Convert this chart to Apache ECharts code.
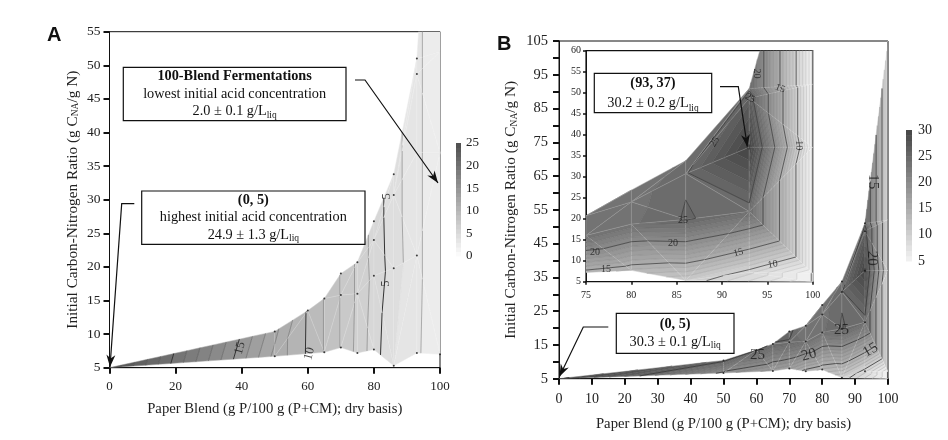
<!DOCTYPE html>
<html><head><meta charset="utf-8">
<style>html,body{margin:0;padding:0;background:#fff}#c{width:948px;height:440px}</style>
<script src="https://cdn.jsdelivr.net/npm/echarts@6/dist/echarts.min.js"></script>
</head><body><div id="c"></div>
<script>
// Fermentation grid (paper blend, C/N ratio)
const pointX = [0,50,50,60,65,65,70,70,70,75,75,75,80,80,80,80,86,86,86,86,93,93,93,93,93,100,100,100,100,100];
const pointY = [5,10.4,6.7,13.5,15.3,7.3,19,15.8,8,20.7,16,7.2,26.8,24,18.7,7.7,33.8,30.7,19.8,5.3,51,48.7,37,21.7,7.2,105,52,37,7,5];
// Initial acid concentration at each grid point
const acidA = [24.9,12.3,11.7,9.9,8.95,8.95,7.95,7.95,7.95,6.8,6.8,6.7,5.6,5.6,5.7,5.5,4.4,4.4,4.5,4.0,3.3,3.3,3.3,3.3,3.2,2.05,2.05,2.05,2.05,2.05];
const acidB = [30.3,25.5,19.5,25.2,24.9,17.5,25.6,24.8,17.2,23,23.8,14.4,23,23.5,23.8,13.8,24.3,24.8,25.15,11,24.5,26.5,30.2,24.2,9.3,4.9,4.9,4.9,4.9,4.9];
// Triangulated mesh (indices into the point lists)
const meshShared = [[0,1,2],[1,2,3],[2,3,5],[3,4,5],[4,5,7],[5,7,8],[4,6,7],[6,7,9],[7,9,10],[7,8,10],[8,10,11],
 [9,10,13],[9,12,13],[10,13,14],[10,14,15],[10,11,15],[12,13,16],[13,16,17],[13,17,18],[13,14,18],[14,18,19],[14,15,19],
 [16,17,20],[17,20,21],[17,21,22],[17,22,23],[17,18,23],[18,19,23],[19,23,24],[20,21,26],[20,25,26],[21,22,27],[21,26,27],[22,23,27],[23,27,28],[23,24,28]];
const meshBottomB = [[19,24,29],[24,28,29]];
const dotsA = [1,2,3,4,5,6,7,8,9,10,11,12,13,14,15,16,17,18,19,20,21,23,24,28];
const dotsB = [1,2,3,4,5,6,7,8,9,10,11,12,13,14,15,16,17,18,19,20,21,22,23,24];
const labelsA = [[39.5,7.9,'15',75],[60.5,7.1,'10',75],[83.6,17.5,'5',90],[84,30.5,'5',90]];
const labelsB = [[60.3,12,'25',0],[85.9,19.4,'25',0],[76,12,'20',15],[94.7,13.5,'15',30],[95,40.7,'20',-90],[95.5,63.3,'15',-90]];
const labelsInset = [[76,12,'20',0],[77.2,8,'15',0],[84.6,14.2,'20',0],[85.7,19.5,'25',0],[91.8,11.9,'15',15],[95.6,9.1,'10',10],[98.4,37.5,'10',-90],[96.4,51,'15',-20],[93.1,48.7,'25',-30],[89.2,38.3,'25',60],[93.8,54.6,'20',-90]];
const ticksBarA = [0,25], ticksBarB = [5,30];

const SERIF = '"Liberation Serif","Times New Roman",serif';
const shadeA = v => { const g = Math.round(253 - Math.max(0,v)/25*(253-78)); return `rgb(${g},${g},${g})`; };
const shadeB = v => { const g = Math.round(250 - Math.max(0,v-4)/26*(250-70)); return `rgb(${g},${g},${g})`; };

function clipLevel(poly, level, keepAbove){
  const out=[]; 
  for(let i=0;i<poly.length;i++){
    const a=poly[i], b=poly[(i+1)%poly.length];
    const ina = keepAbove ? a[2]>=level : a[2]<=level;
    const inb = keepAbove ? b[2]>=level : b[2]<=level;
    if(ina) out.push(a);
    if(ina!==inb){ const t=(level-a[2])/(b[2]-a[2]); out.push([a[0]+t*(b[0]-a[0]),a[1]+t*(b[1]-a[1]),level]); }
  }
  return out;
}
function meshRender(values, shade, lo, hi, lineAlpha, meshAlpha, boldW){
  return function(params, api){
    const tri = [api.value(0),api.value(1),api.value(2)];
    const pts = tri.map(i=>[pointX[i],pointY[i],values[i]]);
    const proj = p => api.coord([p[0],p[1]]);
    const children=[];
    for(let L=lo;L<hi;L++){
      let poly=clipLevel(pts,L,true); if(poly.length<3) continue;
      poly=clipLevel(poly,L+1,false); if(poly.length<3) continue;
      const c=shade(L+0.5);
      children.push({type:'polygon',silent:true,shape:{points:poly.map(proj)},style:{fill:c,stroke:c,lineWidth:0.4}});
    }
    children.push({type:'polygon',silent:true,shape:{points:pts.map(proj)},style:{fill:'none',stroke:`rgba(255,255,255,${meshAlpha})`,lineWidth:0.7}});
    for(let L=lo;L<=hi;L++){
      const seg=[];
      for(let i=0;i<3;i++){
        const a=pts[i],b=pts[(i+1)%3];
        if((a[2]-L)*(b[2]-L)<0){const t=(L-a[2])/(b[2]-a[2]);seg.push([a[0]+t*(b[0]-a[0]),a[1]+t*(b[1]-a[1])]);}
      }
      if(seg.length===2){
        const bold=L%5===0;
        children.push({type:'line',silent:true,shape:{x1:proj(seg[0])[0],y1:proj(seg[0])[1],x2:proj(seg[1])[0],y2:proj(seg[1])[1]},
          style:{stroke:bold?'#333':`rgba(60,60,60,${lineAlpha})`,lineWidth:bold?boldW:0.6}});
      }
    }
    return {type:'group',children};
  };
}
function barRender(shade){
  return function(params, api){
    const L=api.value(0);
    const a=api.coord([0,L+1]), b=api.coord([1,L]);
    return {type:'rect',silent:true,shape:{x:a[0],y:a[1],width:b[0]-a[0],height:b[1]-a[1]+0.5},style:{fill:shade(L+0.5)}};
  };
}
const range=(a,b)=>{const r=[];for(let i=a;i<b;i++)r.push([i]);return r;};
const labelData=(arr,fs)=>arr.map(l=>({value:[l[0],l[1]],label:{show:true,position:'inside',formatter:l[2],rotate:l[3],fontSize:fs,color:'#1a1a1a',fontFamily:SERIF}}));
function labelSeries(arr,fs,xi,yi){
  return {type:'scatter',xAxisIndex:xi,yAxisIndex:yi,symbolSize:1,itemStyle:{color:'rgba(0,0,0,0)'},silent:true,z:6,
    data:labelData(arr,fs)};
}
function dotSeries(ids,xi,yi){
  return {type:'scatter',xAxisIndex:xi,yAxisIndex:yi,symbolSize:2,itemStyle:{color:'#111'},silent:true,z:5,clip:true,data:ids.map(i=>[pointX[i],pointY[i]])};
}
function xA(o){return Object.assign({type:'value',axisLine:{show:true,onZero:false,lineStyle:{color:'#111',width:1}},axisTick:{show:true,length:6,lineStyle:{color:'#111',width:2}},
  splitLine:{show:false},axisLabel:{color:'#222',fontFamily:SERIF,fontSize:13,margin:12,hideOverlap:false,showMinLabel:true,showMaxLabel:true},nameLocation:'middle',
  nameTextStyle:{color:'#222',fontFamily:SERIF,fontSize:14.7}},o);}
const rich={s:{fontSize:9.5,fontFamily:SERIF,color:'#222',verticalAlign:'bottom',padding:[6,0,0,0]}};

const option={
  animation:false,backgroundColor:'#fff',
  grid:[
    {left:109.5,top:31.7,width:330.5,height:336,show:true,borderColor:'#111',borderWidth:1,backgroundColor:'#fff'},
    {left:559,top:41,width:329,height:337.7,show:true,borderColor:'#111',borderWidth:1,backgroundColor:'#fff'},
    {left:586,top:50.7,width:226.7,height:231,show:true,borderColor:'#111',borderWidth:1.2,backgroundColor:'#fff'},
    {left:456,top:143,width:5,height:113,show:false},
    {left:906,top:130,width:6,height:131,show:false}
  ],
  xAxis:[
    xA({gridIndex:0,min:0,max:100,interval:20,name:'Paper Blend (g P/100 g (P+CM); dry basis)',nameGap:34}),
    xA({gridIndex:1,min:0,max:100,interval:10,name:'Paper Blend (g P/100 g (P+CM); dry basis)',nameGap:38,axisLabel:{color:'#222',fontFamily:SERIF,fontSize:14,margin:14}}),
    xA({gridIndex:2,min:75,max:100,interval:5,axisTick:{length:3,lineStyle:{color:'#111',width:1.5}},axisLabel:{color:'#222',fontFamily:SERIF,fontSize:10,margin:9}}),
    {type:'value',gridIndex:3,min:0,max:1,show:false},
    {type:'value',gridIndex:4,min:0,max:1,show:false}
  ],
  yAxis:[
    xA({gridIndex:0,min:5,max:55,interval:5,name:'Initial Carbon-Nitrogen Ratio (g C{s|NA}/g N)',nameGap:29,nameRotate:90,
       nameTextStyle:{color:'#222',fontFamily:SERIF,fontSize:15.3,rich},axisLabel:{color:'#222',fontFamily:SERIF,fontSize:13.5,margin:9}}),
    xA({gridIndex:1,min:5,max:105,interval:5,name:'Initial Carbon-Nitrogen Ratio (g C{s|NA}/g N)',nameGap:40,nameRotate:90,
       nameTextStyle:{color:'#222',fontFamily:SERIF,fontSize:15.3,rich},
       axisLabel:{color:'#222',fontFamily:SERIF,fontSize:14.5,margin:11,formatter:v=>(v%10===5?String(v):'')}}),
    xA({gridIndex:2,min:5,max:60,interval:5,axisTick:{length:3,lineStyle:{color:'#111',width:1.5}},axisLabel:{color:'#222',fontFamily:SERIF,fontSize:10,margin:5}}),
    {type:'value',gridIndex:3,min:ticksBarA[0],max:ticksBarA[1],interval:5,axisLine:{show:false},axisTick:{show:false},splitLine:{show:false},position:'right',
      axisLabel:{color:'#222',fontFamily:SERIF,fontSize:13,margin:5}},
    {type:'value',gridIndex:4,min:ticksBarB[0],max:ticksBarB[1],interval:5,axisLine:{show:false},axisTick:{show:false},splitLine:{show:false},position:'right',
      axisLabel:{color:'#222',fontFamily:SERIF,fontSize:14,margin:6}}
  ],
  series:[
    {type:'custom',coordinateSystem:'cartesian2d',xAxisIndex:0,yAxisIndex:0,clip:true,z:2,silent:true,encode:{x:[],y:[]},
      renderItem:meshRender(acidA,shadeA,0,25,0.6,0.2,1),data:meshShared},
    dotSeries(dotsA,0,0), labelSeries(labelsA,12.5,0,0),
    {type:'custom',coordinateSystem:'cartesian2d',xAxisIndex:1,yAxisIndex:1,clip:true,z:2,silent:true,encode:{x:[],y:[]},
      renderItem:meshRender(acidB,shadeB,4,31,0.3,0.2,0.8),data:meshShared.concat(meshBottomB)},
    dotSeries(dotsB,1,1), labelSeries(labelsB,15,1,1),
    {type:'custom',coordinateSystem:'cartesian2d',xAxisIndex:2,yAxisIndex:2,clip:true,z:3,silent:true,encode:{x:[],y:[]},
      renderItem:meshRender(acidB,shadeB,4,31,0.2,0.18,0.7),data:meshShared.concat(meshBottomB)},
    labelSeries(labelsInset,10,2,2),
    {type:'custom',coordinateSystem:'cartesian2d',xAxisIndex:3,yAxisIndex:3,silent:true,z:2,encode:{x:[],y:[]},renderItem:barRender(shadeA),data:range(0,25)},
    {type:'custom',coordinateSystem:'cartesian2d',xAxisIndex:4,yAxisIndex:4,silent:true,z:2,encode:{x:[],y:[]},renderItem:barRender(shadeB),data:range(5,30)}
  ],
  graphic:{elements:[]}
};
const g=option.graphic.elements;
const subRich={b:{fontWeight:'bold',fontFamily:SERIF,fill:'#111'},
  n:{fontFamily:SERIF,fill:'#111'},
  s:{fontFamily:SERIF,fontSize:9.5,fill:'#111',verticalAlign:'bottom',padding:[6,0,0,0]}};
function box(x0,y0,x1,y1,text,lh,fs){
  const rich=JSON.parse(JSON.stringify(subRich));
  rich.b.lineHeight=rich.n.lineHeight=rich.s.lineHeight=lh; rich.b.fontSize=rich.n.fontSize=fs;
  g.push({type:'rect',z:50,silent:true,shape:{x:x0,y:y0,width:x1-x0,height:y1-y0},style:{fill:'#fff',stroke:'#111',lineWidth:1.2}});
  g.push({type:'text',z:51,silent:true,x:(x0+x1)/2,y:(y0+y1)/2,style:{text,align:'center',verticalAlign:'middle',rich,fontFamily:SERIF,fontSize:fs,fill:'#111'}});
}
function arrow(pts,head){
  g.push({type:'polyline',z:52,silent:true,shape:{points:pts},style:{fill:'none',stroke:'#111',lineWidth:1.2}});
  const a=pts[pts.length-2],b=pts[pts.length-1],ang=Math.atan2(b[1]-a[1],b[0]-a[0]);
  const l=[b[0]-head*Math.cos(ang-0.35),b[1]-head*Math.sin(ang-0.35)], r=[b[0]-head*Math.cos(ang+0.35),b[1]-head*Math.sin(ang+0.35)];
  const m=[b[0]-head*0.65*Math.cos(ang),b[1]-head*0.65*Math.sin(ang)];
  g.push({type:'polygon',z:52,silent:true,shape:{points:[l,b,r,m]},style:{fill:'#111'}});
}
box(123.3,67.3,346,120.7,'{b|100-Blend Fermentations}\n{n|lowest initial acid concentration}\n{n|2.0 ± 0.1 g/L}{s|liq}',17.5,14.3);
box(141.7,191,365,244.3,'{b|(0, 5)}\n{n|highest initial acid concentration}\n{n|24.9 ± 1.3 g/L}{s|liq}',17.5,14.3);
box(594.3,73.3,711.7,112.7,'{b|(93, 37)}\n{n|30.2 ± 0.2 g/L}{s|liq}',20,14.3);
box(616.3,313.3,734,353.3,'{b|(0, 5)}\n{n|30.3 ± 0.1 g/L}{s|liq}',17.5,14.3);
arrow([[355,80],[365,80],[438,183]],13);
arrow([[134.3,203.7],[121.7,203.7],[110,367]],13);
arrow([[720,86.7],[738.3,86.7],[747.3,146.7]],13);
arrow([[608.3,327],[583.3,327],[559.5,376.5]],13);
g.push({type:'text',z:60,silent:true,x:47,y:25,style:{text:'A',fontFamily:'"Liberation Sans",Arial,sans-serif',fontWeight:'bold',fontSize:20,fill:'#111'}});
g.push({type:'text',z:60,silent:true,x:497,y:34,style:{text:'B',fontFamily:'"Liberation Sans",Arial,sans-serif',fontWeight:'bold',fontSize:20,fill:'#111'}});
const chart=echarts.init(document.getElementById('c'),null,{renderer:'canvas'});
chart.setOption(option);
</script></body></html>
